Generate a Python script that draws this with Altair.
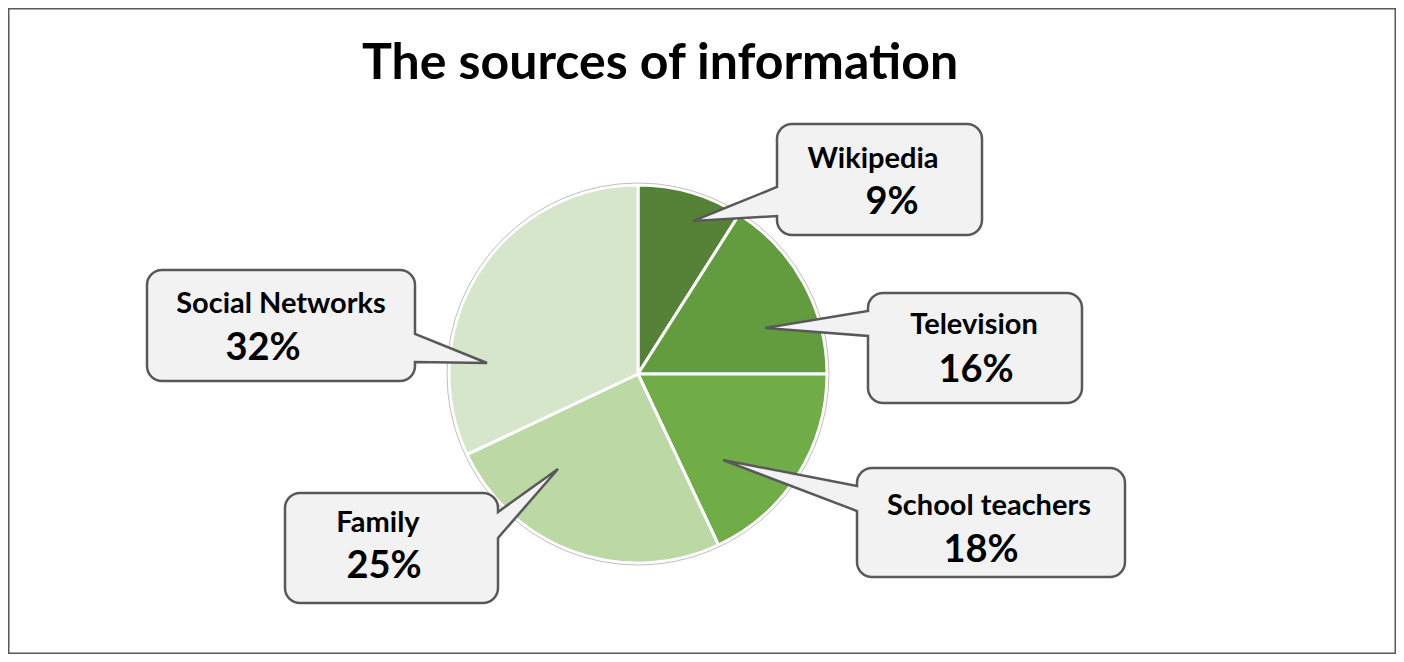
import altair as alt
import pandas as pd

# ---- data ----
categories = ["Wikipedia", "Television", "School teachers", "Family", "Social Networks"]
shares = [9, 16, 18, 25, 32]
pct_labels = ["9%", "16%", "18%", "25%", "32%"]
title_text = "The sources of information"

# ---- styles ----
slice_colors = ["#558236", "#639C3E", "#71AD47", "#BBD8A5", "#D5E6CA"]
FONT = "Lato"

# ---- callout layout (page pixel coordinates) ----
box_left = [777, 868, 857, 285, 147]
box_top = [124, 293, 468, 493, 270]
box_right = [982, 1082, 1125, 498, 415]
box_bottom = [235, 403, 577, 603, 381]
ptr_side = ["left", "left", "left", "right", "right"]
ptr_base1 = [187, 311, 486, 512, 334]
ptr_base2 = [216, 336, 511, 538, 362]
tip_x = [693, 765, 723, 558, 487]
tip_y = [221, 328, 460, 469, 363]
name_x = [873, 974, 989, 378, 281]
name_y = [168, 334, 515, 532, 313]
pct_x = [892, 976, 981, 384, 263]
pct_y = [214, 382, 562, 578, 360]

PIE_CX, PIE_CY, PIE_R = 638, 374, 189
W, H = 1388, 646
OFF = 8  # page margin


def callout_path(i, r=15):
    x0, y0 = box_left[i], box_top[i]
    w, h = box_right[i] - x0, box_bottom[i] - y0
    b1, b2 = ptr_base1[i] - y0, ptr_base2[i] - y0
    tx, ty = tip_x[i] - x0, tip_y[i] - y0
    p = f"M{r},0 H{w - r} A{r},{r} 0 0 1 {w},{r} "
    if ptr_side[i] == "right":
        p += f"V{b1} L{tx},{ty} L{w},{b2} "
    p += f"V{h - r} A{r},{r} 0 0 1 {w - r},{h} H{r} A{r},{r} 0 0 1 0,{h - r} "
    if ptr_side[i] == "left":
        p += f"V{b2} L{tx},{ty} L0,{b1} "
    p += f"V{r} A{r},{r} 0 0 1 {r},0 Z"
    return p


paths = [callout_path(i) for i in range(len(categories))]

xs = alt.Scale(domain=[OFF, OFF + W], range=[0, W])
ys = alt.Scale(domain=[OFF, OFF + H], range=[0, H])

pie_df = pd.DataFrame({"category": categories, "share": shares, "order": list(range(len(categories)))})
box_df = pd.DataFrame({"category": categories, "x": box_left, "y": box_top})
name_df = pd.DataFrame({"category": categories, "x": name_x, "y": name_y})
pct_df = pd.DataFrame({"label": pct_labels, "x": pct_x, "y": pct_y})
one = pd.DataFrame({"t": [title_text]})

border = alt.Chart(one).mark_rect(fillOpacity=0, stroke="#595959", strokeWidth=3).encode(
    x=alt.value(0), x2=alt.value(W), y=alt.value(0), y2=alt.value(H)
)

pie = alt.Chart(pie_df).mark_arc(radius=PIE_R, stroke="white", strokeWidth=3).encode(
    theta=alt.Theta("share:Q", stack=True),
    order=alt.Order("order:Q"),
    color=alt.Color("category:N", scale=alt.Scale(domain=categories, range=slice_colors), legend=None),
    x=alt.value(PIE_CX - OFF),
    y=alt.value(PIE_CY - OFF),
)

ring = alt.Chart(one).mark_arc(
    radius=PIE_R + 2, theta=0, theta2=6.2832, fillOpacity=0, stroke="#BFBFBF", strokeWidth=1
).encode(x=alt.value(PIE_CX - OFF), y=alt.value(PIE_CY - OFF))

boxes = alt.Chart(box_df).mark_point(
    filled=True, fill="#F2F2F2", stroke="#595959", strokeWidth=2.5, size=4,
    opacity=1, fillOpacity=1, strokeOpacity=1,
).encode(
    x=alt.X("x:Q", scale=xs, axis=None),
    y=alt.Y("y:Q", scale=ys, axis=None),
    shape=alt.Shape("category:N", scale=alt.Scale(domain=categories, range=paths), legend=None),
)

names = alt.Chart(name_df).mark_text(
    font=FONT, fontSize=29, fontWeight="bold", color="#000000", baseline="alphabetic", align="center"
).encode(x=alt.X("x:Q", scale=xs, axis=None), y=alt.Y("y:Q", scale=ys, axis=None), text="category:N")

pcts = alt.Chart(pct_df).mark_text(
    font=FONT, fontSize=38, fontWeight="bold", color="#000000", baseline="alphabetic", align="center"
).encode(x=alt.X("x:Q", scale=xs, axis=None), y=alt.Y("y:Q", scale=ys, axis=None), text="label:N")

title = alt.Chart(one).mark_text(
    font=FONT, fontSize=50, fontWeight="bold", color="#000000", baseline="alphabetic", align="center"
).encode(x=alt.value(660 - OFF), y=alt.value(79 - OFF), text="t:N")

chart = alt.layer(border, pie, ring, boxes, names, pcts, title).properties(
    width=W, height=H, autosize=alt.AutoSizeParams(type="none"), padding=0
).configure_view(stroke=None)

chart.save("out.html", embed_options={"renderer": "svg", "actions": False})
